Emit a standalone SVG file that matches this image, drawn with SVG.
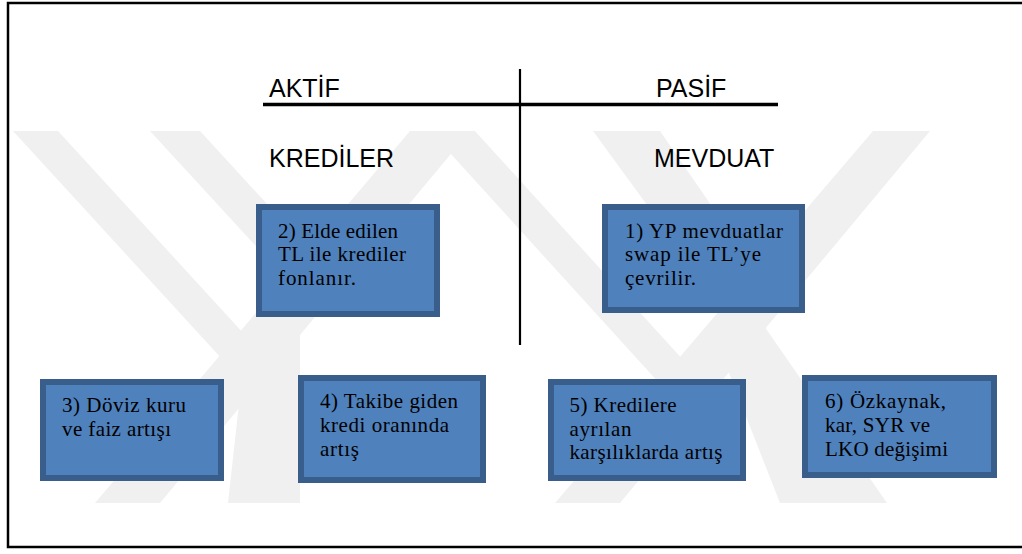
<svg xmlns="http://www.w3.org/2000/svg" width="1022" height="554" viewBox="0 0 1022 554">
<style>
.wm{fill:#f0f0f0}
.box{fill:#4f81bd;stroke:#3a5e8c;stroke-width:6}
.bt{font-family:"Liberation Serif","Times New Roman",serif;font-size:21px;fill:#000}
.hd{font-family:"Liberation Sans",Arial,sans-serif;font-size:25px;fill:#000}
.ln{stroke:#000;fill:none}
</style>
<rect width="1022" height="554" fill="#fff"/>
<g id="watermark">
<polygon class="wm" points="13,131 58,131 300,395 255,395"/>
<polygon class="wm" points="150,131 200,131 360,305 310,305"/>
<polygon class="wm" points="410,131 470,131 160,503 95,503"/>
<polygon class="wm" points="245,350 300,330 300,503 228,503"/>
<polygon class="wm" points="430,131 475,131 715,395 670,395"/>
<polygon class="wm" points="593,131 660,131 780,305 720,305"/>
<polygon class="wm" points="873,131 930,131 620,503 555,503"/>
<polygon class="wm" points="720,350 760,320 887,503 780,503"/>
</g>
<rect x="8" y="3" width="1030" height="544" fill="none" stroke="#000" stroke-width="2.5"/>
<g id="connectors">
<line class="ln" x1="263" y1="104.5" x2="778" y2="104.5" stroke-width="3.5"/>
<line class="ln" x1="520" y1="69" x2="520" y2="345" stroke-width="2.2"/>
</g>
<g id="headers">
<text class="hd" x="269" y="96.5">AKTİF</text>
<text class="hd" x="656" y="96.5">PASİF</text>
<text class="hd" x="269" y="166.5">KREDİLER</text>
<text class="hd" x="654" y="166.5">MEVDUAT</text>
</g>
<g id="node2">
<rect class="box" x="259" y="207" width="178" height="107"/>
<text class="bt"><tspan x="278" y="237.7" textLength="120">2) Elde edilen</tspan><tspan x="278" y="261" textLength="128">TL ile krediler</tspan><tspan x="278" y="285" textLength="78">fonlanır.</tspan></text>
</g>
<g id="node1">
<rect class="box" x="605" y="207" width="197" height="103"/>
<text class="bt"><tspan x="625" y="237.7" textLength="158">1) YP mevduatlar</tspan><tspan x="625" y="261" textLength="136">swap ile TL’ye</tspan><tspan x="625" y="285" textLength="71">çevrilir.</tspan></text>
</g>
<g id="node3">
<rect class="box" x="43" y="382" width="178" height="96"/>
<text class="bt"><tspan x="62" y="411.7" textLength="124">3) Döviz kuru</tspan><tspan x="62" y="435.7" textLength="109">ve faiz artışı</tspan></text>
</g>
<g id="node4">
<rect class="box" x="301" y="378" width="182" height="102"/>
<text class="bt"><tspan x="320" y="408" textLength="138">4) Takibe giden</tspan><tspan x="320" y="432" textLength="129">kredi oranında</tspan><tspan x="320" y="456" textLength="39">artış</tspan></text>
</g>
<g id="node5">
<rect class="box" x="551" y="382" width="192" height="96"/>
<text class="bt"><tspan x="569.5" y="411.7" textLength="107">5) Kredilere</tspan><tspan x="569.5" y="435.7" textLength="62">ayrılan</tspan><tspan x="569.5" y="459.3" textLength="153">karşılıklarda artış</tspan></text>
</g>
<g id="node6">
<rect class="box" x="805" y="378" width="189" height="97"/>
<text class="bt"><tspan x="825" y="408.3" textLength="121">6) Özkaynak,</tspan><tspan x="825" y="432.3" textLength="105">kar, SYR ve</tspan><tspan x="825" y="456.3" textLength="123">LKO değişimi</tspan></text>
</g>
</svg>
